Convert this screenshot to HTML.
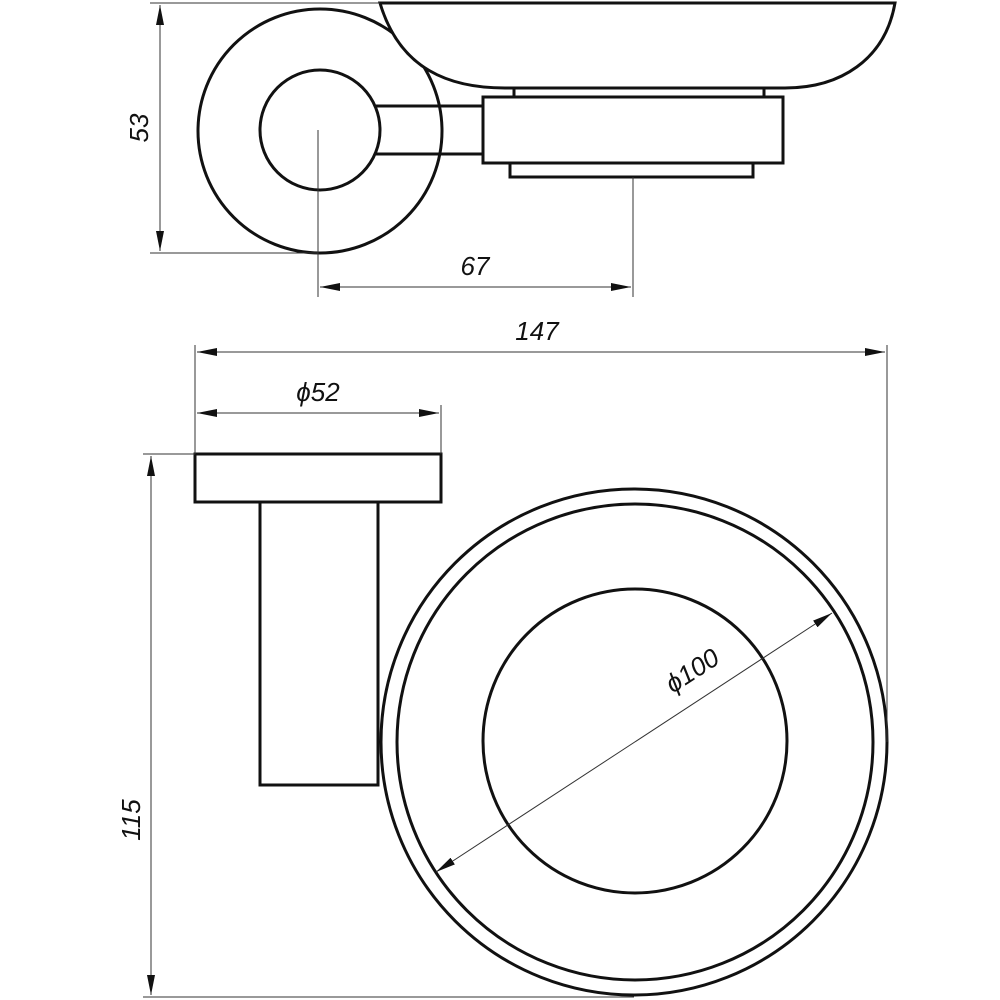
<!DOCTYPE html>
<html><head><meta charset="utf-8"><style>
html,body{margin:0;padding:0;background:#fff;}
svg{display:block;}
text{font-family:"Liberation Sans",sans-serif;font-style:italic;font-size:26px;fill:#111;}
</style></head><body>
<svg width="1000" height="1000" viewBox="0 0 1000 1000" xmlns="http://www.w3.org/2000/svg">
<defs>
<marker id="a" viewBox="0 0 20 8" refX="20" refY="4" markerWidth="20" markerHeight="8" markerUnits="userSpaceOnUse" orient="auto-start-reverse">
<path d="M0,0 L20,4 L0,8 Z" fill="#111"/></marker>
</defs>
<g fill="none" stroke="#111" stroke-width="3">
<!-- top view -->
<circle cx="320" cy="131" r="122"/>
<path d="M380,3 C400,70 450,88 505,88 L785,88 C840,88 885,60 895,3 Z" fill="#fff"/>
<rect x="514" y="88" width="250" height="9" fill="#fff"/>
<circle cx="320" cy="130" r="60"/>
<line x1="376" y1="106" x2="483" y2="106"/>
<line x1="376" y1="154" x2="483" y2="154"/>
<rect x="483" y="97" width="300" height="66" fill="#fff"/>
<rect x="510" y="163" width="243" height="14"/>
<!-- front view -->
<rect x="195" y="454" width="246" height="48"/>
<rect x="260" y="502" width="118" height="283"/>
<circle cx="634" cy="742" r="253" fill="none"/>
<circle cx="635" cy="742" r="238"/>
<circle cx="635" cy="741" r="152"/>
</g>
<g fill="none" stroke="#333" stroke-width="1">
<!-- 53 -->
<line x1="150" y1="3" x2="380" y2="3"/>
<line x1="150" y1="253" x2="318" y2="253"/>
<line x1="160" y1="5" x2="160" y2="251" marker-start="url(#a)" marker-end="url(#a)"/>
<!-- 67 -->
<line x1="318" y1="130" x2="318" y2="297"/>
<line x1="633" y1="177" x2="633" y2="297"/>
<line x1="320" y1="287" x2="631" y2="287" marker-start="url(#a)" marker-end="url(#a)"/>
<!-- 147 -->
<line x1="195" y1="345" x2="195" y2="454"/>
<line x1="887" y1="345" x2="887" y2="742"/>
<line x1="197" y1="352" x2="885" y2="352" marker-start="url(#a)" marker-end="url(#a)"/>
<!-- 52 -->
<line x1="441" y1="405" x2="441" y2="454"/>
<line x1="197" y1="413" x2="439" y2="413" marker-start="url(#a)" marker-end="url(#a)"/>
<!-- 115 -->
<line x1="143" y1="454" x2="195" y2="454"/>
<line x1="143" y1="997" x2="634" y2="997"/>
<line x1="151" y1="456" x2="151" y2="995" marker-start="url(#a)" marker-end="url(#a)"/>
<!-- 100 -->
<line x1="436" y1="872" x2="832" y2="613" marker-start="url(#a)" marker-end="url(#a)"/>
</g>
<text x="148" y="128" text-anchor="middle" transform="rotate(-90 148 128)">53</text>
<text x="475" y="275" text-anchor="middle">67</text>
<text x="537" y="340" text-anchor="middle">147</text>
<text x="318" y="401" text-anchor="middle">ϕ52</text>
<text x="140" y="820" text-anchor="middle" transform="rotate(-90 140 820)">115</text>
<text x="697" y="678" text-anchor="middle" transform="rotate(-33 697 678)">ϕ100</text>
</svg>
</body></html>
